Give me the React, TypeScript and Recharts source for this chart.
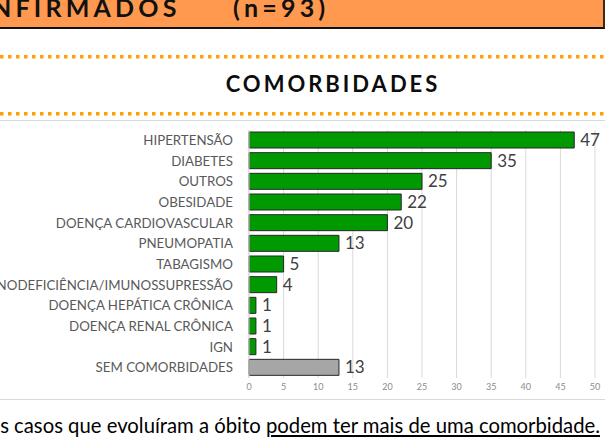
import React from 'react';
import { BarChart, Bar, XAxis, YAxis, CartesianGrid, Cell, LabelList } from 'recharts';

const categories = [
  'HIPERTENSÃO',
  'DIABETES',
  'OUTROS',
  'OBESIDADE',
  'DOENÇA CARDIOVASCULAR',
  'PNEUMOPATIA',
  'TABAGISMO',
  'IMUNODEFICIÊNCIA/IMUNOSSUPRESSÃO',
  'DOENÇA HEPÁTICA CRÔNICA',
  'DOENÇA RENAL CRÔNICA',
  'IGN',
  'SEM COMORBIDADES',
];
const values = [47, 35, 25, 22, 20, 13, 5, 4, 1, 1, 1, 13];
const barColors = [
  '#009900', '#009900', '#009900', '#009900', '#009900', '#009900',
  '#009900', '#009900', '#009900', '#009900', '#009900', '#a6a6a6',
];
const xTicks = [0, 5, 10, 15, 20, 25, 30, 35, 40, 45, 50];

const headerLeft = 'NFIRMADOS';
const headerRight = '(n=93)';
const chartTitle = 'COMORBIDADES';
const noteStart = 's casos que evoluíram a óbito ';
const noteUnderlined = 'podem ter mais de uma comorbidade.';

const data = categories.map((name, i) => ({ name, value: values[i], color: barColors[i] }));

const FONT = 'Lato, "Open Sans", sans-serif';

export default function App() {
  return (
    <div
      style={{
        position: 'absolute',
        left: 0,
        top: 0,
        width: 605,
        height: 444,
        overflow: 'hidden',
        background: '#ffffff',
        fontFamily: FONT,
      }}
    >
      <div
        style={{
          position: 'absolute',
          left: -5,
          top: -5,
          width: 610,
          height: 34,
          boxSizing: 'border-box',
          background: '#ff9950',
          borderRight: '2px solid #3a2a1a',
          borderBottom: '2.5px solid #111111',
        }}
      />
      <div style={{ position: 'absolute', left: 0, top: 120, width: 605, height: 1, background: '#d9d9d9' }} />
      <div style={{ position: 'absolute', left: 0, top: 399, width: 605, height: 1, background: '#d9d9d9' }} />

      <div style={{ position: 'absolute', left: -80, top: 120 }}>
        <BarChart
          width={685}
          height={280}
          layout="vertical"
          data={data}
          margin={{ top: 10, right: 10, bottom: 1, left: 0 }}
        >
          <CartesianGrid horizontal={false} vertical={true} stroke="#d9d9d9" />
          <XAxis
            type="number"
            domain={[0, 50]}
            ticks={xTicks}
            interval={0}
            axisLine={false}
            tickLine={false}
            tickSize={4}
            tickMargin={2}
            height={21}
            tick={{ fontSize: 9, fill: '#8c8c8c', fontFamily: FONT }}
          />
          <YAxis
            type="category"
            dataKey="name"
            width={329}
            interval={0}
            axisLine={{ stroke: '#d9d9d9' }}
            tickLine={false}
            tickSize={6}
            tickMargin={10}
            tick={{ fontSize: 13.3, fill: '#595959', fontFamily: FONT }}
          />
          <Bar dataKey="value" barSize={16} stroke="#262626" strokeWidth={1} isAnimationActive={false}>
            {data.map((d) => (
              <Cell key={d.name} fill={d.color} />
            ))}
            <LabelList
              dataKey="value"
              position="right"
              offset={6}
              fill="#404040"
              style={{ fontSize: 17, fontFamily: FONT }}
            />
          </Bar>
        </BarChart>
      </div>

      <svg
        width={605}
        height={444}
        style={{ position: 'absolute', left: 0, top: 0, pointerEvents: 'none' }}
      >
        <text x={-8} y={17} fontSize={25} fontWeight={700} letterSpacing={4.2} fill="#111" fontFamily={FONT}>
          {headerLeft}
        </text>
        <text x={233} y={17} fontSize={25} fontWeight={700} letterSpacing={4.2} fill="#111" fontFamily={FONT}>
          {headerRight}
        </text>
        <line x1={0} x2={605} y1={56.7} y2={56.7} stroke="#ffa000" strokeWidth={3.5} strokeDasharray="3.5 4.5" />
        <line x1={0} x2={605} y1={113.7} y2={113.7} stroke="#ffa000" strokeWidth={3.5} strokeDasharray="3.5 4.5" />
        <text
          x={333}
          y={92}
          textAnchor="middle"
          fontSize={22}
          fontWeight={700}
          letterSpacing={3}
          fill="#0d0d0d"
          fontFamily={FONT}
        >
          {chartTitle}
        </text>
      </svg>

      <div
        style={{
          position: 'absolute',
          right: 5,
          top: 414,
          whiteSpace: 'nowrap',
          fontSize: 20.3,
          lineHeight: '22px',
          color: '#000',
          fontFamily: FONT,
        }}
      >
        {noteStart}
        <span style={{ textDecoration: 'underline', textDecorationThickness: 2, textUnderlineOffset: 2 }}>
          {noteUnderlined}
        </span>
      </div>
    </div>
  );
}
